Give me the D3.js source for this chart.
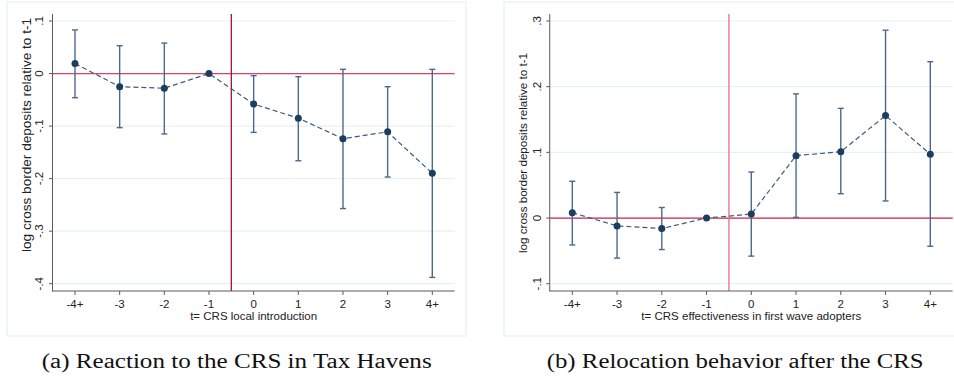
<!DOCTYPE html>
<html>
<head>
<meta charset="utf-8">
<script src="https://cdn.jsdelivr.net/npm/d3@7"></script>
<style>
  body { margin: 0; background: #fff; }
  svg { display: block; }
</style>
</head>
<body>
<svg id="vis" width="954" height="380"></svg>
<script>
// Datos
const CATEGORIAS = ["-4+", "-3", "-2", "-1", "0", "1", "2", "3", "4+"];

// (a) Reacción al CRS en paraísos fiscales
const A_COEF = [0.019, -0.025, -0.028, 0, -0.058, -0.085, -0.124, -0.111, -0.190];
const A_LO = [-0.046, -0.103, -0.115, 0, -0.112, -0.166, -0.257, -0.197, -0.388];
const A_HI = [0.083, 0.053, 0.058, 0, -0.004, -0.006, 0.008, -0.025, 0.008];
const A_TICKS = [0.1, 0, -0.1, -0.2, -0.3, -0.4];
const A_TICK_LABELS = [".1", "0", "-.1", "-.2", "-.3", "-.4"];

// (b) Relocalización después del CRS
const B_COEF = [0.008, -0.012, -0.016, 0, 0.006, 0.095, 0.101, 0.156, 0.097];
const B_LO = [-0.041, -0.061, -0.048, 0, -0.058, 0.001, 0.037, 0.026, -0.043];
const B_HI = [0.056, 0.039, 0.016, 0, 0.070, 0.189, 0.167, 0.286, 0.238];
const B_TICKS = [0.3, 0.2, 0.1, 0, -0.1];
const B_TICK_LABELS = [".3", ".2", ".1", "0", "-.1"];

const SVG = d3.select("#vis");
const SANS = "'Liberation Sans', Arial, sans-serif";

function panel(cfg) {
  const g = SVG.append("g");

  // marco exterior
  g.append("rect")
    .attr("x", cfg.frame[0]).attr("y", 2)
    .attr("width", cfg.frame[1] - cfg.frame[0]).attr("height", 334)
    .attr("fill", "none").attr("stroke", "#e3ecee").attr("stroke-width", 1);

  const x = d3.scalePoint().domain(CATEGORIAS).range(cfg.xr);
  const paso = x.step();
  const left = cfg.xr[0] - paso / 2 - 0.2;
  const right = cfg.xr[1] + paso / 2;
  const y = d3.scaleLinear().domain(cfg.ydom).range([21, 283.7]);
  const top = 14, bottom = 291;

  // grilla
  g.selectAll(".grid").data(cfg.ticks).join("line")
    .attr("class", "grid")
    .attr("x1", left).attr("x2", right)
    .attr("y1", d => y(d)).attr("y2", d => y(d))
    .attr("stroke", "#e8f0f1").attr("stroke-width", 1.2);

  // líneas de referencia
  g.append("line")
    .attr("x1", left).attr("x2", right)
    .attr("y1", y(0)).attr("y2", y(0))
    .attr("stroke", cfg.hColor).attr("stroke-width", 1.3);
  const xv = (x("-1") + x("0")) / 2;
  g.append("line")
    .attr("x1", xv).attr("x2", xv)
    .attr("y1", top).attr("y2", bottom)
    .attr("stroke", cfg.vColor).attr("stroke-width", 1.3);

  // ejes
  const ax = g.append("g").attr("stroke", "#5a5a5a").attr("stroke-width", 1);
  ax.append("line").attr("x1", left).attr("x2", left).attr("y1", top).attr("y2", bottom + 0.5);
  ax.append("line").attr("x1", left).attr("x2", right).attr("y1", bottom).attr("y2", bottom);
  ax.selectAll(".yt").data(cfg.ticks).join("line")
    .attr("x1", left - 3.5).attr("x2", left)
    .attr("y1", d => y(d)).attr("y2", d => y(d));
  ax.selectAll(".xt").data(CATEGORIAS).join("line")
    .attr("x1", d => x(d)).attr("x2", d => x(d))
    .attr("y1", bottom).attr("y2", bottom + 4);

  g.selectAll(".ylab").data(cfg.ticks).join("text")
    .attr("transform", d => `translate(${left - 9},${y(d)}) rotate(-90)`)
    .attr("text-anchor", "middle")
    .attr("font-family", SANS).attr("font-size", 11.5).attr("fill", "#222")
    .text((d, i) => cfg.tickLabels[i]);

  g.selectAll(".xlab").data(CATEGORIAS).join("text")
    .attr("x", d => x(d)).attr("y", bottom + 17)
    .attr("text-anchor", "middle")
    .attr("font-family", SANS).attr("font-size", 11.5).attr("fill", "#222")
    .text(d => d);

  g.append("text")
    .attr("x", (cfg.xr[0] + cfg.xr[1]) / 2).attr("y", bottom + 29)
    .attr("text-anchor", "middle")
    .attr("font-family", SANS).attr("font-size", 11).attr("fill", "#222")
    .attr("textLength", cfg.xTitleLen).attr("lengthAdjust", "spacingAndGlyphs")
    .text(cfg.xTitle);

  g.append("text")
    .attr("transform", `translate(${cfg.yTitlePos[0]},${cfg.yTitlePos[1]}) rotate(-90)`)
    .attr("text-anchor", "middle")
    .attr("font-family", SANS).attr("font-size", cfg.yTitleSize).attr("fill", "#222")
    .attr("textLength", cfg.yTitleLen).attr("lengthAdjust", "spacingAndGlyphs")
    .text(cfg.yTitle);

  const filas = CATEGORIAS.map((c, i) => ({ c, b: cfg.coef[i], lo: cfg.lo[i], hi: cfg.hi[i] }));
  const conBarra = filas.filter(d => d.hi !== d.lo);

  // barras de error
  const eb = g.append("g").attr("stroke", "#4b6a8a").attr("stroke-width", 1.4);
  eb.selectAll(".v").data(conBarra).join("line")
    .attr("x1", d => x(d.c)).attr("x2", d => x(d.c))
    .attr("y1", d => y(d.hi)).attr("y2", d => y(d.lo));
  eb.selectAll(".capHi").data(conBarra).join("line")
    .attr("x1", d => x(d.c) - 3).attr("x2", d => x(d.c) + 3)
    .attr("y1", d => y(d.hi)).attr("y2", d => y(d.hi));
  eb.selectAll(".capLo").data(conBarra).join("line")
    .attr("x1", d => x(d.c) - 3).attr("x2", d => x(d.c) + 3)
    .attr("y1", d => y(d.lo)).attr("y2", d => y(d.lo));

  // línea punteada
  g.append("path")
    .datum(filas)
    .attr("d", d3.line().x(d => x(d.c)).y(d => y(d.b)))
    .attr("fill", "none").attr("stroke", "#3d5a7a").attr("stroke-width", 1.2)
    .attr("stroke-dasharray", "5,3");

  // puntos
  g.selectAll(".pt").data(filas).join("circle")
    .attr("cx", d => x(d.c)).attr("cy", d => y(d.b)).attr("r", 3.5)
    .attr("fill", "#1b3d60");

  // leyenda inferior
  SVG.append("text")
    .attr("x", cfg.caption[0]).attr("y", 368)
    .attr("font-family", "'Liberation Serif', 'Times New Roman', serif")
    .attr("font-size", 20.5).attr("fill", "#111")
    .attr("textLength", cfg.caption[1]).attr("lengthAdjust", "spacingAndGlyphs")
    .text(cfg.caption[2]);
}

panel({
  frame: [7, 466],
  xr: [75, 432.3],
  ydom: [0.1, -0.4],
  ticks: A_TICKS, tickLabels: A_TICK_LABELS,
  coef: A_COEF, lo: A_LO, hi: A_HI,
  hColor: "#d9456a", vColor: "#9a1530",
  xTitle: "t= CRS local introduction", xTitleLen: 127,
  yTitle: "log cross border deposits relative to t-1", yTitlePos: [31, 135], yTitleSize: 12, yTitleLen: 234,
  caption: [41.7, 390, "(a) Reaction to the CRS in Tax Havens"]
});

panel({
  frame: [504, 960],
  xr: [572.3, 930.3],
  ydom: [0.3, -0.1],
  ticks: B_TICKS, tickLabels: B_TICK_LABELS,
  coef: B_COEF, lo: B_LO, hi: B_HI,
  hColor: "#d4234d", vColor: "#e4718a",
  xTitle: "t= CRS effectiveness in first wave adopters", xTitleLen: 220,
  yTitle: "log cross border deposits relative to  t-1", yTitlePos: [527, 153], yTitleSize: 10.5, yTitleLen: 200,
  caption: [546.7, 377, "(b) Relocation behavior after the CRS"]
});
</script>
</body>
</html>
